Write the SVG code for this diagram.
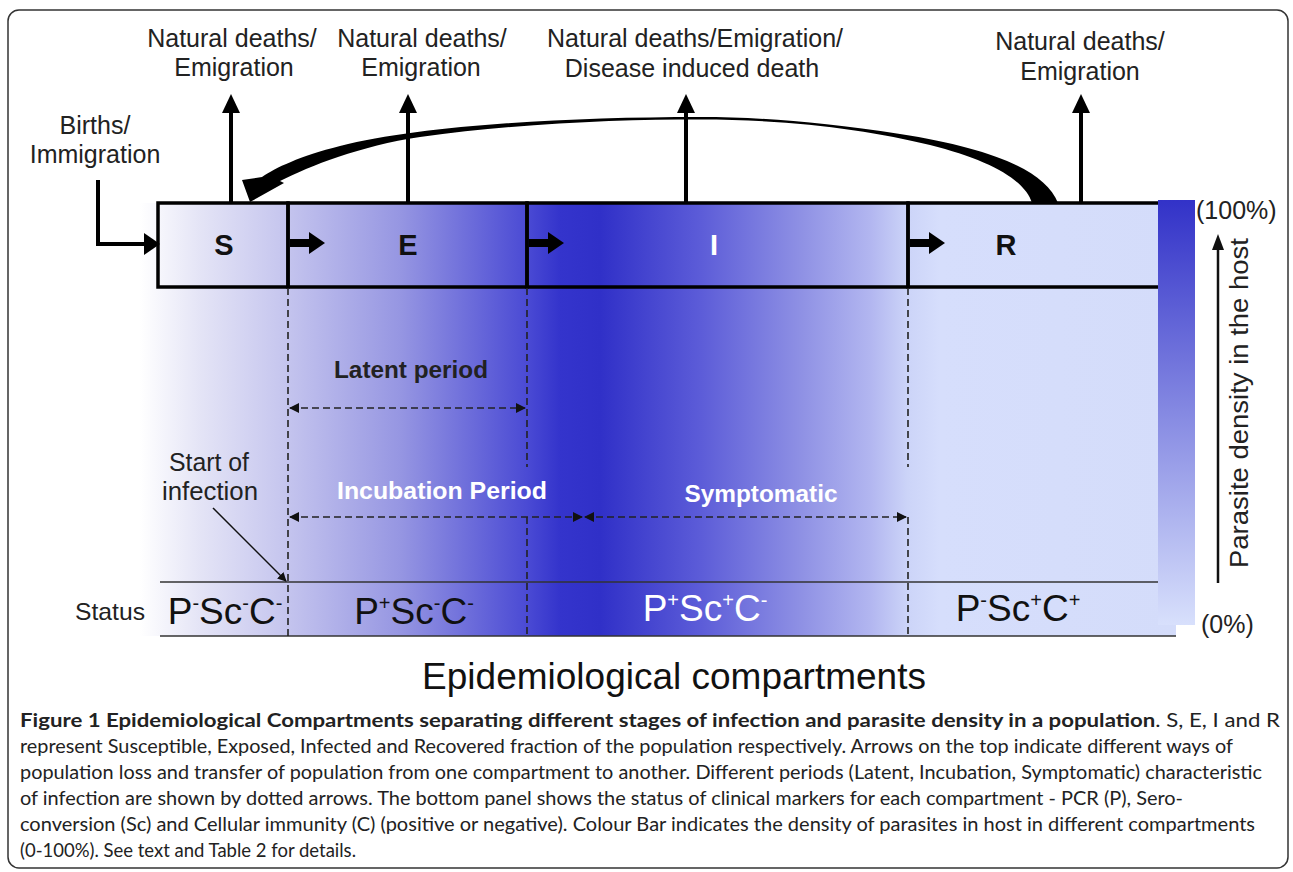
<svg xmlns="http://www.w3.org/2000/svg" width="1293" height="872" viewBox="0 0 1293 872">
<defs>
<linearGradient id="bg" gradientUnits="userSpaceOnUse" x1="140" y1="0" x2="1176" y2="0">
<stop offset="0" stop-color="#ffffff"/>
<stop offset="0.058" stop-color="#e4e4f6"/>
<stop offset="0.143" stop-color="#c4c4ee"/>
<stop offset="0.251" stop-color="#9696e2"/>
<stop offset="0.374" stop-color="#4a4ad4"/>
<stop offset="0.405" stop-color="#3434cc"/>
<stop offset="0.444" stop-color="#3030c8"/>
<stop offset="0.541" stop-color="#5c5cd8"/>
<stop offset="0.637" stop-color="#8e90e4"/>
<stop offset="0.705" stop-color="#b2b6f0"/>
<stop offset="0.741" stop-color="#ccd4f8"/>
<stop offset="0.772" stop-color="#d6defc"/>
<stop offset="1" stop-color="#d4dcfa"/>
</linearGradient>
<linearGradient id="bar" x1="0" y1="0" x2="0" y2="1">
<stop offset="0" stop-color="#3232c8"/>
<stop offset="1" stop-color="#d8e0fc"/>
</linearGradient>
<marker id="ah" viewBox="0 0 10 10" refX="9" refY="5" markerWidth="9" markerHeight="9" markerUnits="userSpaceOnUse" orient="auto">
<path d="M0,0 L10,5 L0,10 Z" fill="#111"/>
</marker>
<marker id="ahs" viewBox="0 0 10 10" refX="9" refY="5" markerWidth="10" markerHeight="10" markerUnits="userSpaceOnUse" orient="auto-start-reverse">
<path d="M0,0 L10,5 L0,10 Z" fill="#111"/>
</marker>
</defs>
<style>
.lbl{font-family:"Liberation Sans",Arial,sans-serif;fill:#222;font-size:25px;text-anchor:middle}
.box{fill:none;stroke:#000;stroke-width:3.5}
.big{stroke:#000;stroke-width:4;fill:none}
.dash{stroke:#222;stroke-width:1.6;stroke-dasharray:7,4;fill:none}
.let{font-family:"Liberation Sans",Arial,sans-serif;font-weight:bold;font-size:29px;text-anchor:middle}
.st{font-family:"Liberation Sans",Arial,sans-serif;font-size:37px;text-anchor:middle}
.per{font-family:"Liberation Sans",Arial,sans-serif;font-weight:bold;font-size:23px;text-anchor:middle}
.cap{font-family:Lato,"Open Sans","Liberation Sans",sans-serif;font-size:19.5px;fill:#222}
</style>

<rect x="8" y="10" width="1280" height="858" rx="11" fill="#fff" stroke="#333" stroke-width="1.5"/>

<g id="background">
<rect x="140" y="203" width="1036" height="433" fill="url(#bg)"/>
</g>

<g id="status-lines">
<line x1="160" y1="582" x2="1176" y2="582" stroke="#333" stroke-width="1.5"/>
<line x1="160" y1="636" x2="1176" y2="636" stroke="#333" stroke-width="1.5"/>
</g>

<g id="node-S">
<rect class="box" x="158" y="203" width="130" height="84"/>
<text class="let" x="224" y="255" fill="#111">S</text>
</g>
<g id="node-E">
<rect class="box" x="288" y="203" width="239" height="84"/>
<text class="let" x="408" y="255" fill="#111">E</text>
</g>
<g id="node-I">
<rect class="box" x="527" y="203" width="381" height="84"/>
<text class="let" x="714" y="255" fill="#fff">I</text>
</g>
<g id="node-R">
<rect class="box" x="908" y="203" width="268" height="84"/>
<text class="let" x="1006" y="255" fill="#111">R</text>
</g>

<g id="connectors">
<!-- births -->
<path class="big" d="M98,180 V244 H146"/>
<path d="M144,233 L160,244 L144,255 Z" fill="#000"/>
<!-- outflows -->
<line class="big" x1="231" y1="203" x2="231" y2="110"/>
<path d="M222,113 L231,94 L240,113 Z" fill="#000"/>
<line class="big" x1="408" y1="203" x2="408" y2="110"/>
<path d="M399,113 L408,94 L417,113 Z" fill="#000"/>
<line class="big" x1="686" y1="203" x2="686" y2="110"/>
<path d="M677,113 L686,94 L695,113 Z" fill="#000"/>
<line class="big" x1="1081" y1="203" x2="1081" y2="110"/>
<path d="M1072,113 L1081,94 L1090,113 Z" fill="#000"/>
<!-- internal transfers -->
<path d="M290,239 H309 V232 L325,243 L309,254 V247 H290 Z" fill="#000"/>
<path d="M529,239 H548 V232 L564,243 L548,254 V247 H529 Z" fill="#000"/>
<path d="M910,239 H929 V232 L945,243 L929,254 V247 H910 Z" fill="#000"/>
<!-- recovery curve back to S -->
<path d="M1058,203 C1045,170 990,148 900,134 C820,122 760,117 700,117 C560,117 420,126 340,146 C300,156 275,168 262,177 L242,180 L250,202 L284,183 L280,181 C310,166 360,146 420,137 C520,123 620,119.5 700,119.5 C790,119.5 870,130 930,145 C990,160 1025,180 1032,203 Z" fill="#000"/>
<!-- dashed guides -->
<line class="dash" x1="288" y1="288" x2="288" y2="636"/>
<line class="dash" x1="527" y1="288" x2="527" y2="467"/>
<line class="dash" x1="527" y1="517" x2="527" y2="636"/>
<line class="dash" x1="908" y1="288" x2="908" y2="467"/>
<line class="dash" x1="908" y1="517" x2="908" y2="636"/>
<!-- period arrows -->
<line class="dash" x1="290" y1="408" x2="525" y2="408" marker-start="url(#ahs)" marker-end="url(#ahs)"/>
<line class="dash" x1="290" y1="517" x2="582" y2="517" marker-start="url(#ahs)" marker-end="url(#ahs)"/>
<line class="dash" x1="585" y1="517" x2="906" y2="517" marker-start="url(#ahs)" marker-end="url(#ahs)"/>
<!-- start of infection -->
<line x1="213" y1="508" x2="286" y2="581" stroke="#111" stroke-width="1.5" marker-end="url(#ah)"/>
<!-- colour bar arrow -->
<line x1="1218" y1="583" x2="1218" y2="248" stroke="#111" stroke-width="2.5"/>
<path d="M1212,250 L1218,234 L1224,250 Z" fill="#111"/>
</g>

<g id="top-labels">
<text class="lbl" x="232" y="47">Natural deaths/</text>
<text class="lbl" x="234" y="76">Emigration</text>
<text class="lbl" x="422" y="47">Natural deaths/</text>
<text class="lbl" x="421" y="76">Emigration</text>
<text class="lbl" x="695" y="47">Natural deaths/Emigration/</text>
<text class="lbl" x="692" y="77">Disease induced death</text>
<text class="lbl" x="1080" y="50">Natural deaths/</text>
<text class="lbl" x="1080" y="80">Emigration</text>
<text class="lbl" x="95" y="134">Births/</text>
<text class="lbl" x="95" y="163">Immigration</text>
</g>

<g id="period-labels">
<text class="per" x="411" y="378" fill="#222" textLength="154" lengthAdjust="spacingAndGlyphs">Latent period</text>
<text class="per" x="442" y="499" fill="#fff" textLength="210" lengthAdjust="spacingAndGlyphs">Incubation Period</text>
<text class="per" x="761" y="502" fill="#fff" textLength="153" lengthAdjust="spacingAndGlyphs">Symptomatic</text>
<text class="lbl" x="209" y="471" style="font-size:25px" textLength="80" lengthAdjust="spacingAndGlyphs">Start of</text>
<text class="lbl" x="210" y="500" style="font-size:25px" textLength="96" lengthAdjust="spacingAndGlyphs">infection</text>
</g>

<g id="status">
<text class="lbl" x="110" y="620" style="font-size:24px" textLength="70" lengthAdjust="spacingAndGlyphs">Status</text>
<text class="st" x="225" y="624" fill="#111">P<tspan font-size="20" dy="-14">-</tspan><tspan dy="14">Sc</tspan><tspan font-size="20" dy="-14">-</tspan><tspan dy="14">C</tspan><tspan font-size="20" dy="-14">-</tspan></text>
<text class="st" x="414" y="624" fill="#111">P<tspan font-size="20" dy="-14">+</tspan><tspan dy="14">Sc</tspan><tspan font-size="20" dy="-14">-</tspan><tspan dy="14">C</tspan><tspan font-size="20" dy="-14">-</tspan></text>
<text class="st" x="705" y="621" fill="#fff">P<tspan font-size="20" dy="-14">+</tspan><tspan dy="14">Sc</tspan><tspan font-size="20" dy="-14">+</tspan><tspan dy="14">C</tspan><tspan font-size="20" dy="-14">-</tspan></text>
<text class="st" x="1018" y="621" fill="#111">P<tspan font-size="20" dy="-14">-</tspan><tspan dy="14">Sc</tspan><tspan font-size="20" dy="-14">+</tspan><tspan dy="14">C</tspan><tspan font-size="20" dy="-14">+</tspan></text>
</g>

<g id="colour-bar">
<rect x="1158" y="200" width="37" height="425" fill="url(#bar)"/>
<text class="lbl" x="1196" y="219" style="font-size:25px;text-anchor:start">(100%)</text>
<text class="lbl" x="1201" y="633" style="font-size:25px;text-anchor:start">(0%)</text>
<text class="lbl" transform="translate(1248,403) rotate(-90)" style="font-size:26px" textLength="330" lengthAdjust="spacingAndGlyphs">Parasite density in the host</text>
</g>

<g id="caption">
<text x="674" y="689" style="font-family:'Liberation Sans',Arial,sans-serif;font-size:37px;fill:#111;text-anchor:middle">Epidemiological compartments</text>
<text class="cap" x="20" y="727" textLength="1260" lengthAdjust="spacingAndGlyphs"><tspan font-weight="bold">Figure 1 Epidemiological Compartments separating different stages of infection and parasite density in a population</tspan>. S, E, I and R</text>
<text class="cap" x="20" y="753" textLength="1213" lengthAdjust="spacingAndGlyphs">represent Susceptible, Exposed, Infected and Recovered fraction of the population respectively. Arrows on the top indicate different ways of</text>
<text class="cap" x="20" y="779" textLength="1242" lengthAdjust="spacingAndGlyphs">population loss and transfer of population from one compartment to another. Different periods (Latent, Incubation, Symptomatic) characteristic</text>
<text class="cap" x="20" y="805" textLength="1163" lengthAdjust="spacingAndGlyphs">of infection are shown by dotted arrows. The bottom panel shows the status of clinical markers for each compartment - PCR (P), Sero-</text>
<text class="cap" x="20" y="831" textLength="1235" lengthAdjust="spacingAndGlyphs">conversion (Sc) and Cellular immunity (C) (positive or negative). Colour Bar indicates the density of parasites in host in different compartments</text>
<text class="cap" x="20" y="857" textLength="336" lengthAdjust="spacingAndGlyphs">(0-100%). See text and Table 2 for details.</text>
</g>
</svg>
